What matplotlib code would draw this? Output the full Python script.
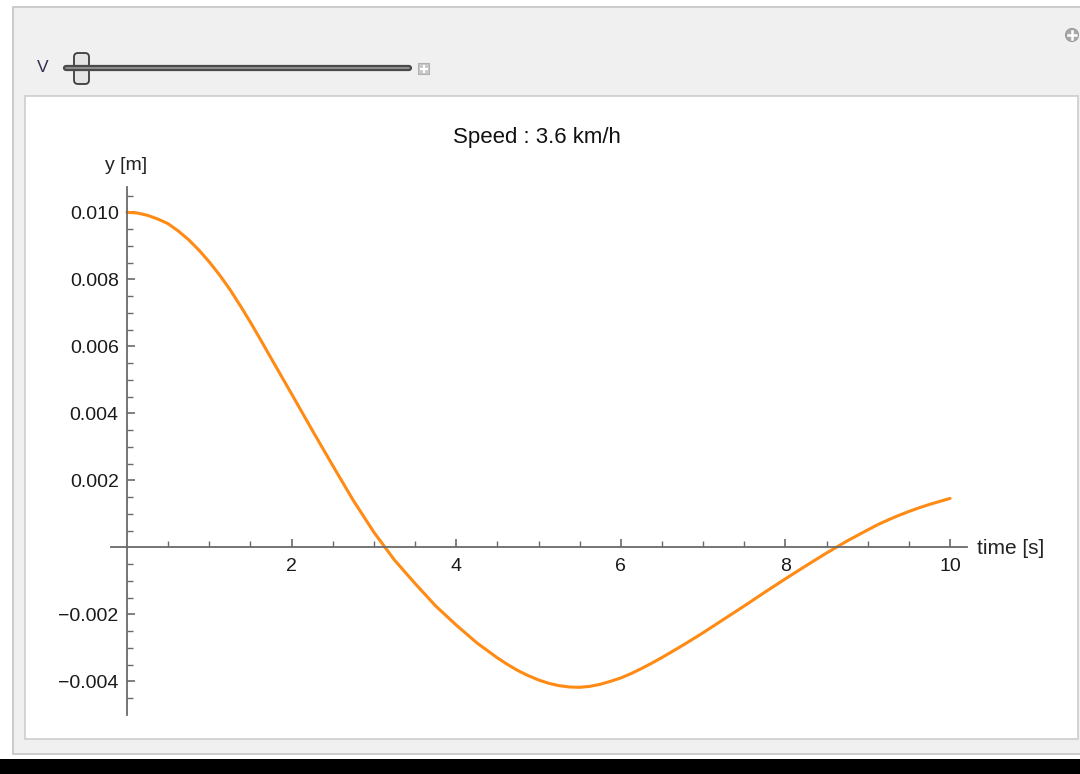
import matplotlib
matplotlib.use('Agg')
import matplotlib.pyplot as plt
import numpy as np
from matplotlib.patches import Rectangle, FancyBboxPatch, Circle

plt.rcParams['font.family'] = ['Liberation Sans', 'DejaVu Sans']

# данные (гуще там, где кривая сильно изгибается)
time_s = [0.000, 0.125, 0.250, 0.375, 0.500, 0.625, 0.750, 0.875, 1.000, 1.125,
          1.250, 1.375, 1.500, 1.625, 1.750, 2.000, 2.250, 2.500, 2.750, 3.000,
          3.250, 3.500, 3.750, 4.000, 4.250, 4.500, 4.625, 4.750, 4.875, 5.000,
          5.125, 5.250, 5.375, 5.500, 5.625, 5.750, 5.875, 6.000, 6.125, 6.250,
          6.375, 6.500, 6.750, 7.000, 7.250, 7.500, 7.750, 8.000, 8.250, 8.500,
          8.750, 9.000, 9.125, 9.250, 9.375, 9.500, 9.625, 9.750, 9.875, 10.000]
y_m = [0.01000, 0.00998, 0.00991, 0.00980, 0.00966, 0.00944, 0.00918, 0.00887,
       0.00852, 0.00813, 0.00770, 0.00722, 0.00672, 0.00619, 0.00565, 0.00458,
       0.00350, 0.00244, 0.00140, 0.00045, -0.00038, -0.00108, -0.00175, -0.00232,
       -0.00285, -0.00330, -0.00350, -0.00368, -0.00383, -0.00396, -0.00406,
       -0.00413, -0.00417, -0.00418, -0.00415, -0.00409, -0.00400, -0.00390,
       -0.00377, -0.00362, -0.00346, -0.00329, -0.00293, -0.00255, -0.00215,
       -0.00175, -0.00134, -0.00094, -0.00055, -0.00017, 0.00019, 0.00052,
       0.00068, 0.00082, 0.00095, 0.00107, 0.00118, 0.00128, 0.00137, 0.00146]

x_major = [2, 4, 6, 8, 10]
x_labels = ['2', '4', '6', '8', '10']
y_major = [-0.004, -0.002, 0.002, 0.004, 0.006, 0.008, 0.010]
y_labels = ['\u22120.004', '\u22120.002', '0.002', '0.004', '0.006', '0.008', '0.010']

title = 'Speed : 3.6 km/h'

W, H = 1080, 774
fig = plt.figure(figsize=(W / 100, H / 100), dpi=100)
fig.patch.set_facecolor('white')

# фон: рамка Manipulate, слайдер, черная полоса
bg = fig.add_axes([0, 0, 1, 1], zorder=0)
bg.set_xlim(0, W)
bg.set_ylim(H, 0)
bg.axis('off')

bg.add_patch(Rectangle((13, 7), 1100, 747, facecolor='#F0F0F0', edgecolor='#C4C4C4', lw=1.2))
bg.add_patch(Rectangle((25, 96), 1053, 643, facecolor='white', edgecolor='#CDCDCD', lw=1.2))
bg.add_patch(Rectangle((0, 759), W, 20, facecolor='black', edgecolor='none'))

# слайдер
bg.text(43, 67, 'V', ha='center', va='center', fontsize=12.5, color='#303050')
bg.plot([66, 409], [68, 68], color='#4A4A4A', lw=4.5, solid_capstyle='round')
bg.plot([66, 409], [68, 68], color='#9A9A9A', lw=1.2, solid_capstyle='round')
bg.add_patch(FancyBboxPatch((74, 53), 15, 31, boxstyle='round,pad=0,rounding_size=4',
                            facecolor='#E4E4E4', edgecolor='#3C3C3C', lw=1.3))
bg.add_patch(Rectangle((418, 63), 11, 11, facecolor='#C8C8C8', edgecolor='#B0B0B0', lw=0.8))
bg.plot([420.5, 426.5], [68.5, 68.5], color='white', lw=1.5)
bg.plot([423.5, 423.5], [65.5, 71.5], color='white', lw=1.5)
bg.add_patch(Circle((1072, 35), 6.5, facecolor='#A8A8A8', edgecolor='#9A9A9A', lw=0.8))
bg.plot([1068, 1076], [35, 35], color='white', lw=1.8)
bg.plot([1072, 1072], [31, 39], color='white', lw=1.8)

bg.text(537, 143, title, ha='center', va='baseline', fontsize=16, color='#111111')
bg.text(126, 170, 'y [m]', ha='center', va='baseline', fontsize=14, color='#222222')
bg.text(977, 554, 'time [s]', ha='left', va='baseline', fontsize=15, color='#222222')

# сам график
ax = fig.add_axes([110.5 / W, 1 - 714.8 / H, 856 / W, 527.6 / H], zorder=1)
ax.patch.set_alpha(0)
ax.plot(time_s, y_m, color='#FF8A14', lw=2.2, solid_capstyle='round',
        solid_joinstyle='round', clip_on=False)

ax.set_xlim(-0.2, 10.2)
ax.set_ylim(-0.0050, 0.01075)
ax.spines['left'].set_position(('data', 0))
ax.spines['bottom'].set_position(('data', 0))
ax.spines['top'].set_visible(False)
ax.spines['right'].set_visible(False)
for s in ['left', 'bottom']:
    ax.spines[s].set_color('#6A6A6A')
    ax.spines[s].set_linewidth(1.3)

ax.set_xticks(x_major, labels=x_labels)
ax.set_yticks(y_major, labels=y_labels)
ax.set_xticks([t for t in np.arange(0.5, 10.01, 0.5) if t not in x_major], minor=True)
y_minor = [v for v in np.arange(-0.0045, 0.01051, 0.0005)
           if min(abs(v - m) for m in y_major + [0.0]) > 1e-6]
ax.set_yticks(y_minor, minor=True)

ax.tick_params(which='both', direction='in', color='#6A6A6A', labelcolor='#1A1A1A',
               labelsize=14)
ax.tick_params(which='major', length=6, width=1.2)
ax.tick_params(which='minor', length=4, width=1.0)
ax.tick_params(axis='x', which='major', pad=8)
ax.tick_params(axis='y', which='major', pad=6)

plt.savefig('out.png', dpi=100)
